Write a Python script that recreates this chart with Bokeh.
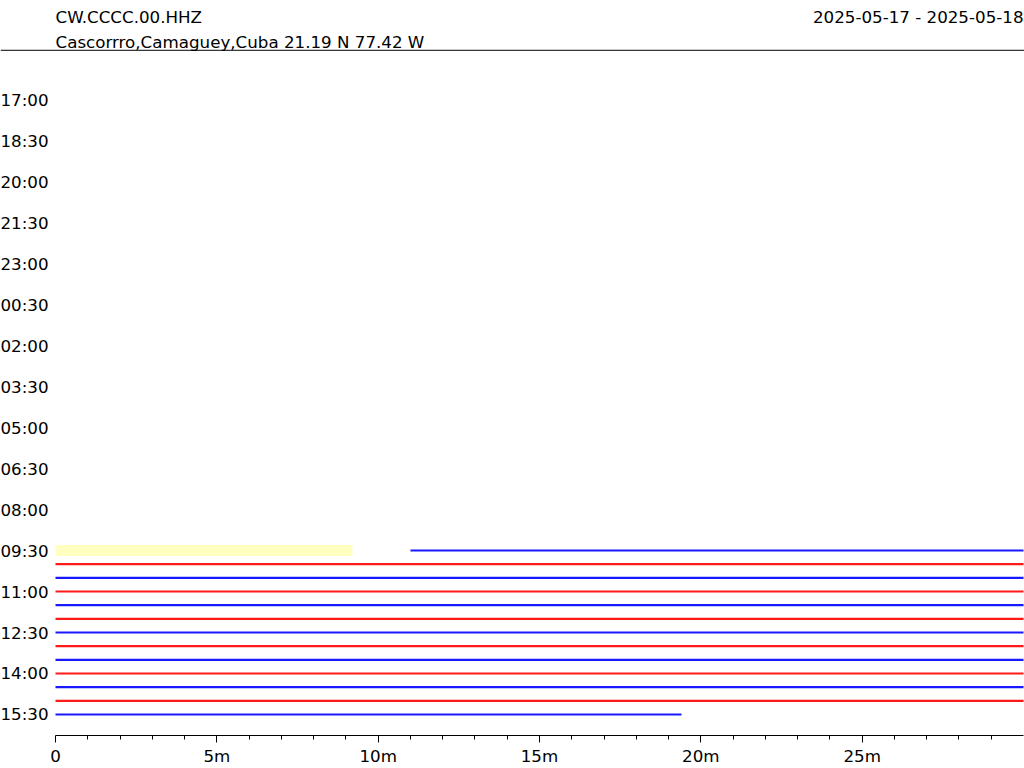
from bokeh.plotting import figure
from bokeh.models import Range1d, FixedTicker, ColumnDataSource
from bokeh.core.properties import value
from bokeh.embed import file_html
from bokeh.resources import INLINE

# ---------------- data ----------------
station = "CW.CCCC.00.HHZ"
location = "Cascorrro,Camaguey,Cuba  21.19 N 77.42 W"
date_span = "2025-05-17 - 2025-05-18"

# y-axis: one row per 30 minutes, label every third row
label_rows = [0, 3, 6, 9, 12, 15, 18, 21, 24, 27, 30, 33, 36, 39, 42, 45]
row_labels = ["17:00", "18:30", "20:00", "21:30", "23:00", "00:30", "02:00", "03:30",
              "05:00", "06:30", "08:00", "09:30", "11:00", "12:30", "14:00", "15:30"]

# traces (row index, start minute, end minute, colour)
trace_rows = [33, 34, 35, 36, 37, 38, 39, 40, 41, 42, 43, 44, 45]
trace_start = [11.0, 0.0, 0.0, 0.0, 0.0, 0.0, 0.0, 0.0, 0.0, 0.0, 0.0, 0.0, 0.0]
trace_end = [30.0, 30.0, 30.0, 30.0, 30.0, 30.0, 30.0, 30.0, 30.0, 30.0, 30.0, 30.0, 19.4]
trace_colors = ["#0000ff", "#ff0000", "#0000ff", "#ff0000", "#0000ff", "#ff0000", "#0000ff",
                "#ff0000", "#0000ff", "#ff0000", "#0000ff", "#ff0000", "#0000ff"]

# highlighted span
highlight_row = [33]
highlight_start = [0.0]
highlight_end = [9.2]

# x-axis
minute_ticks = [0, 5, 10, 15, 20, 25]
minute_labels = ["0", "5m", "10m", "15m", "20m", "25m"]
minor_minutes = [1, 2, 3, 4, 6, 7, 8, 9, 11, 12, 13, 14, 16, 17, 18, 19,
                 21, 22, 23, 24, 26, 27, 28, 29]

# ---------------- layout helpers ----------------
FONT = "DejaVu Sans"
FS = "16.7px"
W, H = 1024, 768
BOTTOM = 30                 # space for x-axis below the frame
PX_MIN = 968 / 30.0         # pixels per minute
X0 = 55                     # pixel where minute 0 sits
ROW0, ROW_PX = 99.5, 13.72  # pixel of row 0 and pixels per row
FRAME_H = H - BOTTOM


def xd(px):   # pixel -> minutes
    return (px - X0) / PX_MIN


def yd(py):   # pixel (from top) -> row
    return (py - ROW0) / ROW_PX


p = figure(width=W, height=H,
           x_range=Range1d(xd(0), xd(W)), y_range=Range1d(yd(FRAME_H), yd(0)),
           toolbar_location=None, output_backend="svg",
           min_border_top=0, min_border_right=0, min_border_left=0, min_border_bottom=BOTTOM,
           outline_line_color=None, y_axis_type=None)
p.grid.visible = False

# header
txt_kw = dict(text_font=value(FONT), text_font_size=FS, text_color="black",
              text_baseline="alphabetic")
p.text(x=[xd(55)], y=[yd(17)], text=[station], text_align="left", **txt_kw)
p.text(x=[xd(55)], y=[yd(42)], text=[location], text_align="left", **txt_kw)
p.text(x=[xd(1023)], y=[yd(17)], text=[date_span], text_align="right", **txt_kw)
p.segment(x0=[xd(0)], x1=[xd(W)], y0=[yd(50)], y1=[yd(50)], line_color="black", line_width=1)

# row labels (time of day at start of each row)
p.text(x=[xd(48)] * len(label_rows), y=label_rows, text=row_labels,
       text_font=value(FONT), text_font_size=FS, text_color="black",
       text_align="right", text_baseline="middle")

# highlight + traces
p.hbar(y=highlight_row, left=highlight_start, right=highlight_end, height=0.8,
       fill_color="#ffffbf", line_color=None)

src = ColumnDataSource(dict(row=trace_rows, start=trace_start, end=trace_end, color=trace_colors))
p.segment(x0="start", x1="end", y0="row", y1="row", line_color="color", line_width=2.2,
          line_alpha=0.9, source=src)

# x-axis
xa = p.xaxis[0]
xa.bounds = (0, 30)
xa.ticker = FixedTicker(ticks=minute_ticks, minor_ticks=minor_minutes)
xa.major_label_overrides = {t: l for t, l in zip(minute_ticks, minute_labels)}
xa.axis_line_color = "black"
xa.major_tick_line_color = "black"
xa.minor_tick_line_color = "black"
xa.major_tick_in = 0
xa.major_tick_out = 7
xa.minor_tick_in = 0
xa.minor_tick_out = 4
xa.major_label_standoff = 3
xa.major_label_text_font = FONT
xa.major_label_text_font_size = FS
xa.major_label_text_color = "black"

open("out.html", "w").write(file_html(p, INLINE))
